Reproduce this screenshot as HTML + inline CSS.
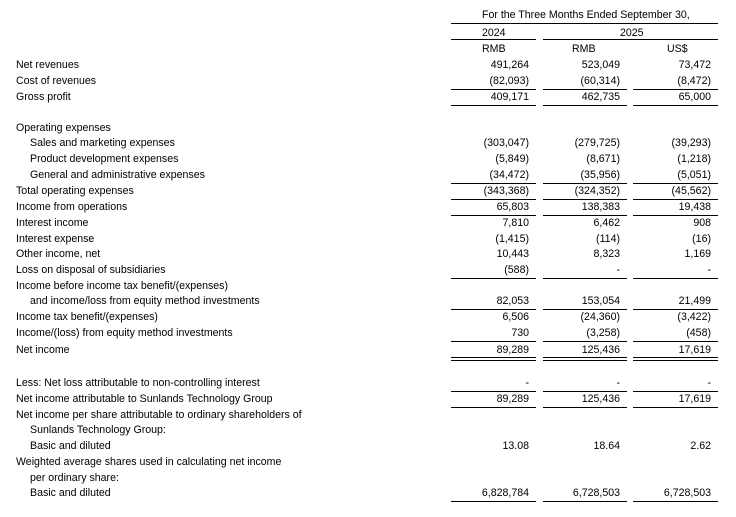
<!DOCTYPE html>
<html><head><meta charset="utf-8"><style>
body{margin:0;width:736px;height:517px;background:#fff;position:relative;font-family:"Liberation Sans",Arial,sans-serif;font-size:10.6px;color:#000;overflow:hidden}
.t{position:absolute;white-space:nowrap;line-height:14px}
.l{left:16px}.i{left:30px}
.a{right:207px}.b{right:116px}.c{right:25px}
.h{position:absolute;height:1px;background:#000}
</style></head><body>
<div class="t" style="top:8px;left:482px">For the Three Months Ended September 30,</div>
<div class="h" style="top:23px;left:451px;width:267px"></div>
<div class="t" style="top:26px;left:482px">2024</div>
<div class="t" style="top:26px;left:620px">2025</div>
<div class="h" style="top:39px;left:451px;width:85px"></div>
<div class="h" style="top:39px;left:543px;width:175px"></div>
<div class="t" style="top:42px;left:482px">RMB</div>
<div class="t" style="top:42px;left:572px">RMB</div>
<div class="t" style="top:42px;left:667px">US$</div>

<div class="t l" style="top:58px">Net revenues</div><div class="t a" style="top:58px">491,264</div><div class="t b" style="top:58px">523,049</div><div class="t c" style="top:58px">73,472</div>
<div class="t l" style="top:74px">Cost of revenues</div><div class="t a" style="top:74px">(82,093)</div><div class="t b" style="top:74px">(60,314)</div><div class="t c" style="top:74px">(8,472)</div>
<div class="t l" style="top:90px">Gross profit</div><div class="t a" style="top:90px">409,171</div><div class="t b" style="top:90px">462,735</div><div class="t c" style="top:90px">65,000</div>

<div class="t l" style="top:121px">Operating expenses</div>
<div class="t i" style="top:136px">Sales and marketing expenses</div><div class="t a" style="top:136px">(303,047)</div><div class="t b" style="top:136px">(279,725)</div><div class="t c" style="top:136px">(39,293)</div>
<div class="t i" style="top:152px">Product development expenses</div><div class="t a" style="top:152px">(5,849)</div><div class="t b" style="top:152px">(8,671)</div><div class="t c" style="top:152px">(1,218)</div>
<div class="t i" style="top:168px">General and administrative expenses</div><div class="t a" style="top:168px">(34,472)</div><div class="t b" style="top:168px">(35,956)</div><div class="t c" style="top:168px">(5,051)</div>
<div class="t l" style="top:184px">Total operating expenses</div><div class="t a" style="top:184px">(343,368)</div><div class="t b" style="top:184px">(324,352)</div><div class="t c" style="top:184px">(45,562)</div>
<div class="t l" style="top:200px">Income from operations</div><div class="t a" style="top:200px">65,803</div><div class="t b" style="top:200px">138,383</div><div class="t c" style="top:200px">19,438</div>
<div class="t l" style="top:216px">Interest income</div><div class="t a" style="top:216px">7,810</div><div class="t b" style="top:216px">6,462</div><div class="t c" style="top:216px">908</div>
<div class="t l" style="top:232px">Interest expense</div><div class="t a" style="top:232px">(1,415)</div><div class="t b" style="top:232px">(114)</div><div class="t c" style="top:232px">(16)</div>
<div class="t l" style="top:247px">Other income, net</div><div class="t a" style="top:247px">10,443</div><div class="t b" style="top:247px">8,323</div><div class="t c" style="top:247px">1,169</div>
<div class="t l" style="top:263px">Loss on disposal of subsidiaries</div><div class="t a" style="top:263px">(588)</div><div class="t b" style="top:263px">-</div><div class="t c" style="top:263px">-</div>
<div class="t l" style="top:279px">Income before income tax benefit/(expenses)</div>
<div class="t i" style="top:294px">and income/loss from equity method investments</div><div class="t a" style="top:294px">82,053</div><div class="t b" style="top:294px">153,054</div><div class="t c" style="top:294px">21,499</div>
<div class="t l" style="top:310px">Income tax benefit/(expenses)</div><div class="t a" style="top:310px">6,506</div><div class="t b" style="top:310px">(24,360)</div><div class="t c" style="top:310px">(3,422)</div>
<div class="t l" style="top:326px">Income/(loss) from equity method investments</div><div class="t a" style="top:326px">730</div><div class="t b" style="top:326px">(3,258)</div><div class="t c" style="top:326px">(458)</div>
<div class="t l" style="top:343px">Net income</div><div class="t a" style="top:343px">89,289</div><div class="t b" style="top:343px">125,436</div><div class="t c" style="top:343px">17,619</div>

<div class="t l" style="top:376px">Less: Net loss attributable to non-controlling interest</div><div class="t a" style="top:376px">-</div><div class="t b" style="top:376px">-</div><div class="t c" style="top:376px">-</div>
<div class="t l" style="top:392px">Net income attributable to Sunlands Technology Group</div><div class="t a" style="top:392px">89,289</div><div class="t b" style="top:392px">125,436</div><div class="t c" style="top:392px">17,619</div>
<div class="t l" style="top:408px">Net income per share attributable to ordinary shareholders of</div>
<div class="t i" style="top:423px">Sunlands Technology Group:</div>
<div class="t i" style="top:439px">Basic and diluted</div><div class="t a" style="top:439px">13.08</div><div class="t b" style="top:439px">18.64</div><div class="t c" style="top:439px">2.62</div>
<div class="t l" style="top:455px">Weighted average shares used in calculating net income</div>
<div class="t i" style="top:471px">per ordinary share:</div>
<div class="t i" style="top:486px">Basic and diluted</div><div class="t a" style="top:486px">6,828,784</div><div class="t b" style="top:486px">6,728,503</div><div class="t c" style="top:486px">6,728,503</div>

<div class="h" style="top:89px;left:451px;width:85px"></div><div class="h" style="top:89px;left:543px;width:84px"></div><div class="h" style="top:89px;left:633px;width:85px"></div>
<div class="h" style="top:105px;left:451px;width:85px"></div><div class="h" style="top:105px;left:543px;width:84px"></div><div class="h" style="top:105px;left:633px;width:85px"></div>
<div class="h" style="top:183px;left:451px;width:85px"></div><div class="h" style="top:183px;left:543px;width:84px"></div><div class="h" style="top:183px;left:633px;width:85px"></div>
<div class="h" style="top:199px;left:451px;width:85px"></div><div class="h" style="top:199px;left:543px;width:84px"></div><div class="h" style="top:199px;left:633px;width:85px"></div>
<div class="h" style="top:215px;left:451px;width:85px"></div><div class="h" style="top:215px;left:543px;width:84px"></div><div class="h" style="top:215px;left:633px;width:85px"></div>
<div class="h" style="top:278px;left:451px;width:85px"></div><div class="h" style="top:278px;left:543px;width:84px"></div><div class="h" style="top:278px;left:633px;width:85px"></div>
<div class="h" style="top:309px;left:451px;width:85px"></div><div class="h" style="top:309px;left:543px;width:84px"></div><div class="h" style="top:309px;left:633px;width:85px"></div>
<div class="h" style="top:341px;left:451px;width:85px"></div><div class="h" style="top:341px;left:543px;width:84px"></div><div class="h" style="top:341px;left:633px;width:85px"></div>
<div class="h" style="top:357px;left:451px;width:85px"></div><div class="h" style="top:357px;left:543px;width:84px"></div><div class="h" style="top:357px;left:633px;width:85px"></div>
<div class="h" style="top:360px;left:451px;width:85px"></div><div class="h" style="top:360px;left:543px;width:84px"></div><div class="h" style="top:360px;left:633px;width:85px"></div>
<div class="h" style="top:391px;left:451px;width:85px"></div><div class="h" style="top:391px;left:543px;width:84px"></div><div class="h" style="top:391px;left:633px;width:85px"></div>
<div class="h" style="top:407px;left:451px;width:85px"></div><div class="h" style="top:407px;left:543px;width:84px"></div><div class="h" style="top:407px;left:633px;width:85px"></div>
<div class="h" style="top:501px;left:451px;width:85px"></div><div class="h" style="top:501px;left:543px;width:84px"></div><div class="h" style="top:501px;left:633px;width:85px"></div>
</body></html>
